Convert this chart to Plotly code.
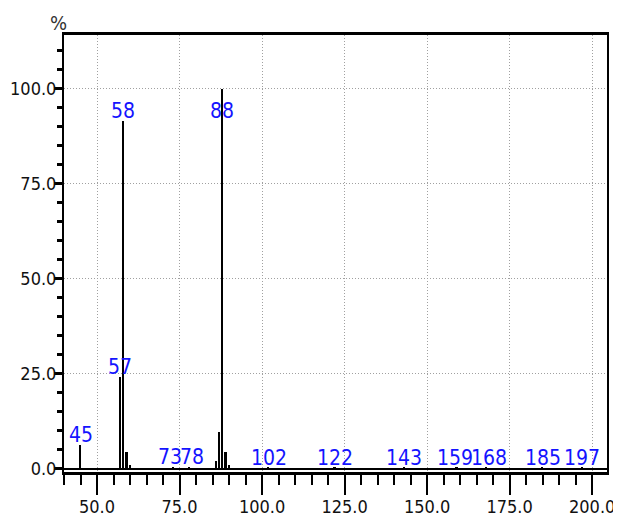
import plotly.graph_objects as go

# m/z peaks and relative intensities (%)
mz = [45, 57, 58, 59, 60, 73, 78, 86, 87, 88, 89, 90, 102, 122, 143, 159, 168, 185, 197]
intensity = [6.2, 24.2, 91.5, 4.5, 1.0, 0.6, 0.5, 2.0, 9.8, 100.0, 4.5, 1.0,
             0.3, 0.3, 0.3, 0.3, 0.3, 0.3, 0.3]
labeled = [45, 57, 58, 73, 78, 88, 102, 122, 143, 159, 168, 185, 197]

x_ticks = [50, 75, 100, 125, 150, 175, 200]
x_ticklabels = ["50.0", "75.0", "100.0", "125.0", "150.0", "175.0", "200.0"]
y_ticks = [0, 25, 50, 75, 100]
y_ticklabels = ["0.0", "25.0", "50.0", "75.0", "100.0"]

FONT = "DejaVu Sans Condensed, Liberation Sans Narrow, sans-serif"

fig = go.Figure()
fig.add_trace(go.Bar(x=mz, y=intensity, width=0.5, marker=dict(color="black", line=dict(width=0)),
                     hoverinfo="x+y"))

# small horizontal nudges so adjacent labels just touch, as in the reference
nudge = {73: -3, 78: 3, 159: -2, 168: 2}
inten_map = dict(zip(mz, intensity))
for m in labeled:
    fig.add_annotation(x=m, y=min(inten_map[m], 91.5), text=str(m), showarrow=False,
                       xanchor="center", yanchor="bottom", yshift=-4, xshift=nudge.get(m, 0),
                       font=dict(family=FONT, size=21, color="#1414ff"))

fig.add_annotation(xref="paper", yref="paper", x=-0.011, y=1.0, text="%", showarrow=False,
                   xanchor="center", yanchor="bottom", yshift=-2,
                   font=dict(family=FONT, size=20, color="#333"))

fig.add_shape(type="line", xref="paper", yref="y", x0=0, x1=1, y0=0, y1=0,
              line=dict(color="black", width=2))

fig.update_layout(
    width=613, height=516,
    margin=dict(l=56, r=14, t=27, b=52, autoexpand=False),
    plot_bgcolor="white", paper_bgcolor="white",
    showlegend=False, bargap=0,
    font=dict(family=FONT, color="black"),
)
fig.update_xaxes(
    range=[40, 204.5], tickvals=x_ticks, ticktext=x_ticklabels, automargin=False,
    showline=True, linecolor="black", linewidth=3, mirror=True,
    ticks="outside", ticklen=20, tickwidth=2, tickcolor="black",
    tickfont=dict(family=FONT, size=18, color="#111"), ticklabelstandoff=-4,
    showgrid=True, gridcolor="#a0a0a0", griddash="1px,2px", gridwidth=1,
    minor=dict(dtick=5, tick0=40, ticks="outside", ticklen=10, tickwidth=2, tickcolor="black", showgrid=False),
    zeroline=False,
)
fig.update_yaxes(
    range=[-0.8, 114.2], tickvals=y_ticks, ticktext=y_ticklabels, automargin=False,
    showline=True, linecolor="black", linewidth=2, mirror=True,
    ticks="outside", ticklen=8, tickwidth=3, tickcolor="black",
    tickfont=dict(family=FONT, size=18, color="#111"), ticklabelstandoff=-6,
    showgrid=True, gridcolor="#a0a0a0", griddash="1px,2px", gridwidth=1,
    minor=dict(dtick=5, tick0=0, ticks="outside", ticklen=5, tickwidth=3, tickcolor="black", showgrid=False),
    zeroline=False,
)

fig.write_html("out.html")
